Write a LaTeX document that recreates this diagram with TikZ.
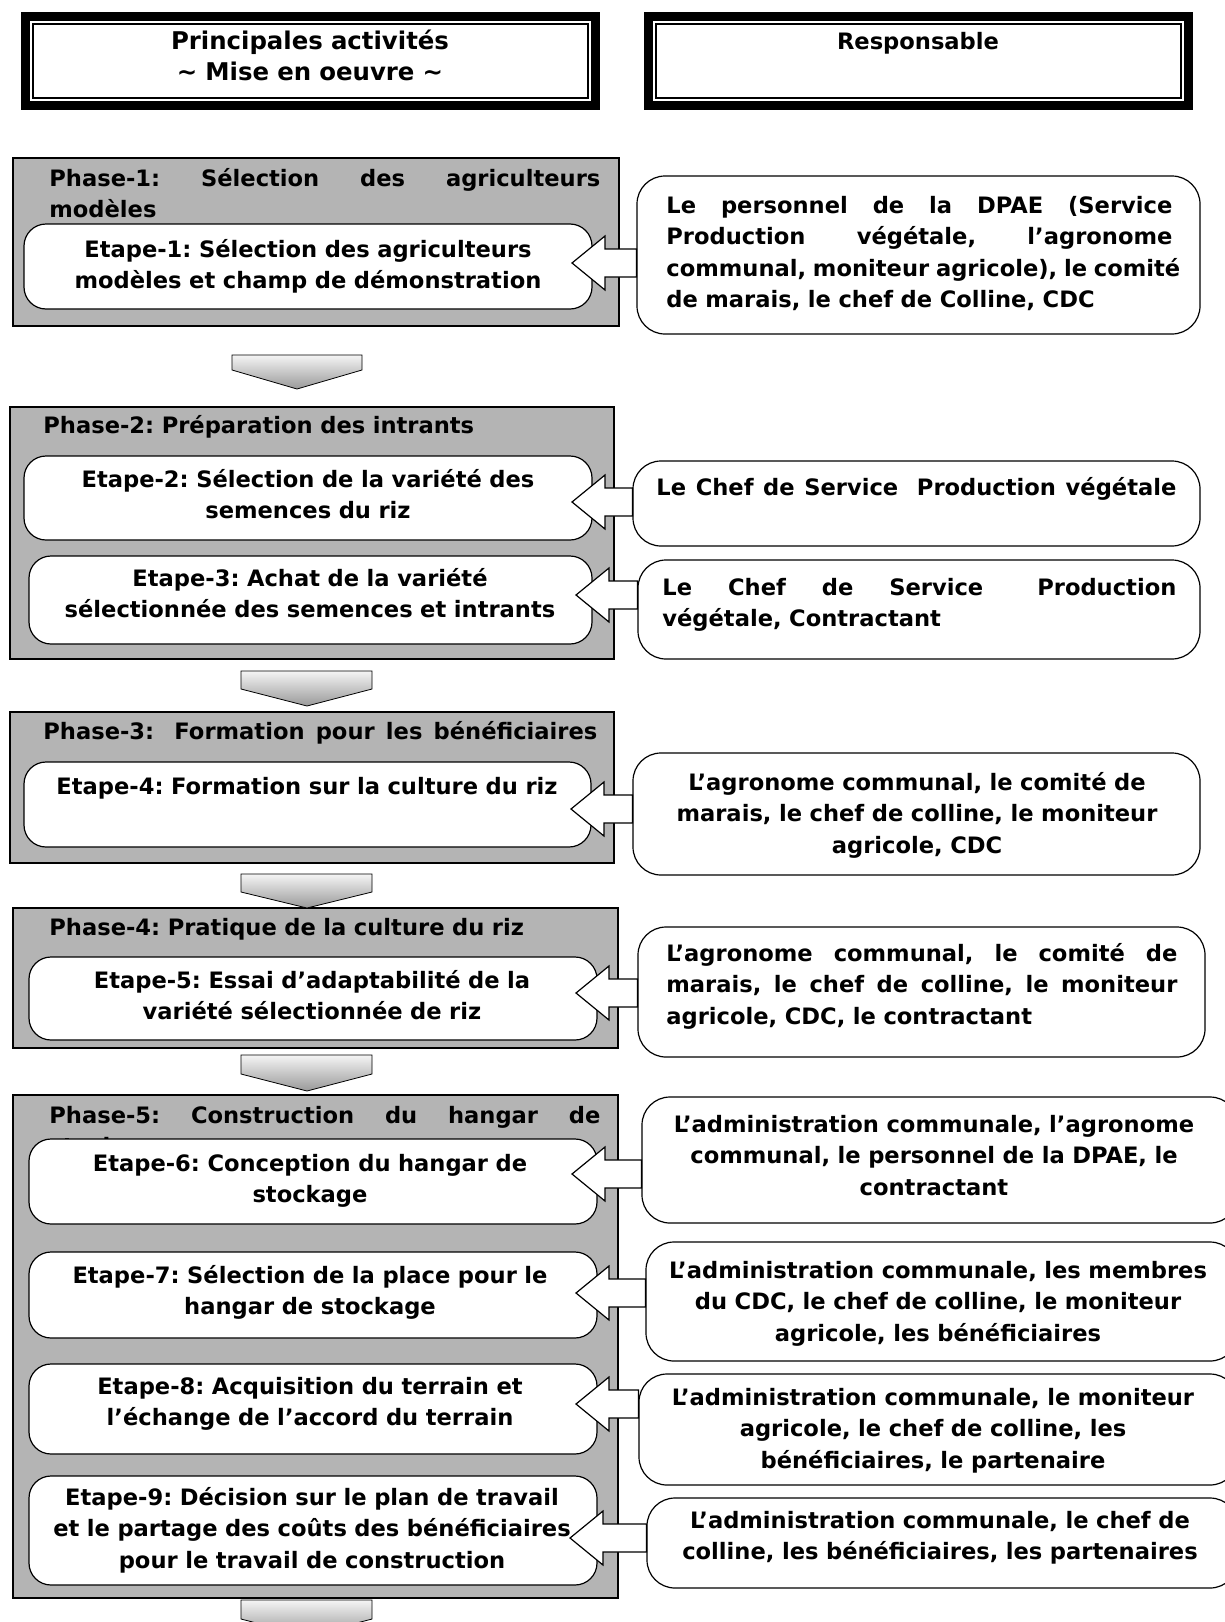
\documentclass[tikz,border=0pt]{standalone}
\usepackage{fontspec}
\setmainfont{DejaVu Sans}
\usetikzlibrary{fit,calc}
\definecolor{phasegray}{RGB}{180,180,180}
\newcommand\fnt{\fontsize{11.3}{15.8}\selectfont\bfseries\frenchspacing}
\newcommand\spr[2]{\leavevmode\hbox to #1{\spaceskip=.3em plus 1fil\relax #2}}
\tikzset{
 phasebox/.style={draw=black, line width=1.1pt, fill=phasegray, inner sep=0pt},
 etapebox/.style={draw=black, line width=0.6pt, fill=white, rounded corners=11pt, inner sep=0pt},
 respbox/.style={draw=black, line width=0.6pt, fill=white, rounded corners=14pt, inner sep=0pt},
 hdrbox/.style={fill=black, inner sep=0pt},
 ctxt/.style={font=\fnt, inner sep=0pt, anchor=base, align=center, text width=#1},
 ctxt/.default=290pt,
 ltxt/.style={font=\fnt, inner sep=0pt, anchor=base west, align=left, text width=#1},
 barrow/.style={draw=black, fill=white, line width=0.6pt, line join=miter},
 downarrow/.style={draw=black, line width=0.4pt, top color=gray!8, bottom color=gray!80},
}
\newcommand\sidearrow[2]{% #1 = responsible node, #2 = tip coordinate
 \draw[barrow] let \p1=(#2), \p2=(#1.west) in
   (\x2,\y1+7pt) -- (\x1+16.5pt,\y1+7pt) -- (\x1+16.5pt,\y1+13.5pt) -- (\x1,\y1)
   -- (\x1+16.5pt,\y1-13.5pt) -- (\x1+16.5pt,\y1-7pt) -- (\x2,\y1-7pt) -- cycle;}
\begin{document}
\begin{tikzpicture}[x=0.5pt,y=-0.5pt]
\useasboundingbox (0,0) rectangle (1225,1622);
\fill[white] (0,0) rectangle (1225,1622);

% headers
\node[hdrbox, fit={(21,12) (600,110)}] (HL) {};
\fill[white] (30,21) rectangle (591,101);
\draw[line width=0.8pt] (33,24) rectangle (588,98);
\node[hdrbox, fit={(644,12) (1193,110)}] (HR) {};
\fill[white] (653,21) rectangle (1184,101);
\draw[line width=0.8pt] (656,24) rectangle (1181,98);
\node[ctxt, font=\fontsize{12.2}{15.8}\selectfont\bfseries] (HLt) at (310,49) {Principales activités\\\textasciitilde{} Mise en oeuvre \textasciitilde};
\node[ctxt] (HRt) at (918,49) {Responsable};

% phase boxes
\node[phasebox, fit={(13,158) (619,326)}] (P1) {};
\node[phasebox, fit={(10,407) (614,659)}] (P2) {};
\node[phasebox, fit={(10,712) (614,863)}] (P3) {};
\node[phasebox, fit={(13,908) (618,1048)}] (P4) {};
\node[phasebox, fit={(13,1095) (618,1598)}] (P5) {};

% phase titles
\node[ltxt=275.5pt] (P1t) at (49,186) {\spr{275.5pt}{Phase-1: Sélection des agriculteurs}\\modèles};
\node[ltxt=277pt] (P2t) at (43,433) {Phase-2: Préparation des intrants};
\node[ltxt=277pt] (P3t) at (43,739) {\spr{277pt}{Phase-3:\hspace{0.4em} Formation pour les bénéficiaires}};
\node[ltxt=277pt] (P4t) at (49,935) {Phase-4: Pratique de la culture du riz};
\node[ltxt=275.5pt] (P5t) at (49,1123) {\spr{275.5pt}{Phase-5: Construction du hangar de}\\stockage};

% etape boxes
\node[etapebox, fit={(24,224) (592,309)}] (E1) {};
\node[etapebox, fit={(24,456) (592,540)}] (E2) {};
\node[etapebox, fit={(29,556) (592,644)}] (E3) {};
\node[etapebox, fit={(24,762) (591,847)}] (E4) {};
\node[etapebox, fit={(29,957) (597,1040)}] (E5) {};
\node[etapebox, fit={(29,1139) (597,1224)}] (E6) {};
\node[etapebox, fit={(29,1252) (597,1338)}] (E7) {};
\node[etapebox, fit={(29,1364) (597,1454)}] (E8) {};
\node[etapebox, fit={(29,1476) (597,1585)}] (E9) {};

% responsible boxes
\node[respbox, fit={(637,176) (1200,334)}] (R1) {};
\node[respbox, fit={(633,461) (1200,546)}] (R2) {};
\node[respbox, fit={(638,560) (1200,659)}] (R3) {};
\node[respbox, fit={(633,753) (1200,875)}] (R4) {};
\node[respbox, fit={(638,927) (1205,1057)}] (R5) {};
\node[respbox, fit={(642,1097) (1238,1223)}] (R6) {};
\node[respbox, fit={(646,1242) (1238,1361)}] (R7) {};
\node[respbox, fit={(639,1374) (1238,1485)}] (R8) {};
\node[respbox, fit={(647,1498) (1238,1588)}] (R9) {};

% side arrows
\coordinate (T1) at (572,263);
\coordinate (T2) at (572,502);
\coordinate (T3) at (576,595);
\coordinate (T4) at (571,809);
\coordinate (T5) at (576,993);
\coordinate (T6) at (572,1174);
\coordinate (T7) at (576,1293);
\coordinate (T8) at (576,1404);
\coordinate (T9) at (570,1538);
\sidearrow{R1}{T1}
\sidearrow{R2}{T2}
\sidearrow{R3}{T3}
\sidearrow{R4}{T4}
\sidearrow{R5}{T5}
\sidearrow{R6}{T6}
\sidearrow{R7}{T7}
\sidearrow{R8}{T8}
\sidearrow{R9}{T9}

% etape texts
\node[ctxt] (E1t) at (308,257) {Etape-1: Sélection des agriculteurs\\modèles et champ de démonstration};
\node[ctxt] (E2t) at (308,487) {Etape-2: Sélection de la variété des\\semences du riz};
\node[ctxt] (E3t) at (310,586) {Etape-3: Achat de la variété\\sélectionnée des semences et intrants};
\node[ctxt] (E4t) at (307,794) {Etape-4: Formation sur la culture du riz};
\node[ctxt] (E5t) at (312,988) {Etape-5: Essai d’adaptabilité de la\\variété sélectionnée de riz};
\node[ctxt] (E6t) at (310,1171) {Etape-6: Conception du hangar de\\stockage};
\node[ctxt] (E7t) at (310,1283) {Etape-7: Sélection de la place pour le\\hangar de stockage};
\node[ctxt] (E8t) at (310,1394) {Etape-8: Acquisition du terrain et\\l’échange de l’accord du terrain};
\node[ctxt] (E9t) at (312,1505) {Etape-9: Décision sur le plan de travail\\et le partage des coûts des bénéficiaires\\pour le travail de construction};

% responsible texts
\node[ltxt=253pt] (R1t) at (666,213) {\spr{253pt}{Le personnel de la DPAE (Service}\\\spr{253pt}{Production végétale, l’agronome}\\\spr{253pt}{communal, moniteur agricole), le comité}\\de marais, le chef de Colline, CDC};
\node[ltxt=260pt] (R2t) at (656,495) {\spr{260pt}{Le Chef de Service\hspace{0.4em} Production végétale}};
\node[ltxt=257pt] (R3t) at (662,595) {\spr{257pt}{Le Chef de Service\hspace{0.8em} Production}\\végétale, Contractant};
\node[ctxt] (R4t) at (917,790) {L’agronome communal, le comité de\\marais, le chef de colline, le moniteur\\agricole, CDC};
\node[ltxt=255.5pt] (R5t) at (666,961) {\spr{255.5pt}{L’agronome communal, le comité de}\\\spr{255.5pt}{marais, le chef de colline, le moniteur}\\agricole, CDC, le contractant};
\node[ctxt] (R6t) at (934,1132) {L’administration communale, l’agronome\\communal, le personnel de la DPAE, le\\contractant};
\node[ctxt] (R7t) at (938,1278) {L’administration communale, les membres\\du CDC, le chef de colline, le moniteur\\agricole, les bénéficiaires};
\node[ctxt] (R8t) at (933,1405) {L’administration communale, le moniteur\\agricole, le chef de colline, les\\bénéficiaires, le partenaire};
\node[ctxt] (R9t) at (940,1528) {L’administration communale, le chef de\\colline, les bénéficiaires, les partenaires};

% down arrows
\path[downarrow] (232,355) -- (362,355) -- (362,370) -- (297,389) -- (232,370) -- cycle;
\path[downarrow] (241,671) -- (372,671) -- (372,689) -- (307,706) -- (241,689) -- cycle;
\path[downarrow] (241,874) -- (372,874) -- (372,892) -- (307,908) -- (241,892) -- cycle;
\path[downarrow] (241,1055) -- (372,1055) -- (372,1074) -- (307,1091) -- (241,1074) -- cycle;
\path[downarrow] (241,1600) -- (372,1600) -- (372,1619) -- (307,1636) -- (241,1619) -- cycle;
\end{tikzpicture}
\end{document}
